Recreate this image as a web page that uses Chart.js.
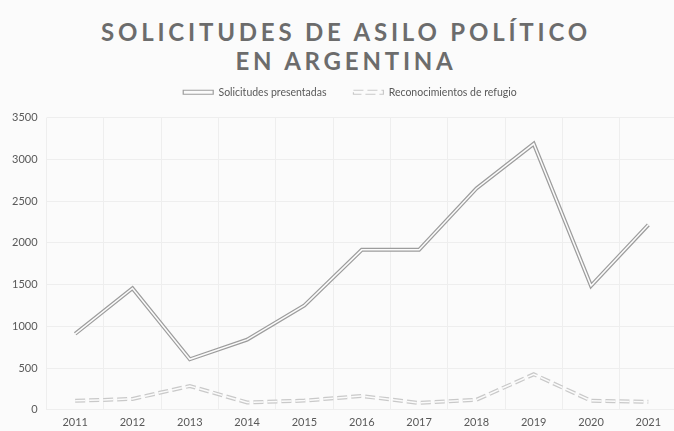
<!DOCTYPE html>
<html>
<head>
<meta charset="utf-8">
<script src="https://cdn.jsdelivr.net/npm/chart.js@4/dist/chart.umd.min.js"></script>
<style>
  html, body { margin: 0; padding: 0; background: #fbfbfb; overflow: hidden; }
  #wrap { position: relative; width: 674px; height: 431px; overflow: hidden; }
  #title {
    position: absolute; left: 9px; top: 18px; width: 674px;
    text-align: center; font-family: Lato, sans-serif; font-weight: 700;
    font-size: 24px; line-height: 28.5px; letter-spacing: 3.8px; color: #6c6c6c;
  }
  #box { position: absolute; left: 0; top: 0; width: 702px; height: 431px; }
</style>
</head>
<body>
<div id="wrap">
  <div id="title">SOLICITUDES DE ASILO POLÍTICO<br>EN ARGENTINA</div>
  <div id="box"><canvas id="chart"></canvas></div>
</div>
<script>
const years = ["2011", "2012", "2013", "2014", "2015", "2016", "2017", "2018", "2019", "2020", "2021"];
const solicitudes = [910, 1455, 605, 840, 1250, 1915, 1915, 2650, 3185, 1485, 2215];
const reconocimientos = [108, 130, 285, 88, 110, 165, 82, 120, 425, 108, 95];
const seriesNames = ["Solicitudes presentadas", "Reconocimientos de refugio"];

const bg = "#fbfbfb";
const textColor = "#595959";

// the legend sits a little right of the canvas centre and higher than its box
const legendShift = {
  id: "legendShift",
  afterLayout(chart) {
    chart.legend.left += 10;
    chart.legend.right += 10;
    chart.legend.top -= 10;
    chart.legend.bottom -= 10;
  },
};

const ctx = document.getElementById("chart");

new Chart(ctx, {
  type: "line",
  data: {
    labels: years,
    datasets: [
      {
        label: seriesNames[0],
        data: solicitudes,
        borderColor: "#9d9d9d",
        borderWidth: 4,
        pointRadius: 0,
        tension: 0,
        order: 4,
      },
      {
        label: "_inner0",
        data: solicitudes,
        borderColor: bg,
        borderWidth: 1.5,
        pointRadius: 0,
        tension: 0,
        order: 3,
      },
      {
        label: seriesNames[1],
        data: reconocimientos,
        borderColor: "#c9c9c9",
        borderWidth: 4,
        borderDash: [10, 4],
        pointRadius: 0,
        tension: 0,
        order: 6,
      },
      {
        label: "_inner1",
        data: reconocimientos,
        borderColor: bg,
        borderWidth: 1.5,
        borderDash: [10, 4],
        pointRadius: 0,
        tension: 0,
        order: 5,
      },
    ],
  },
  plugins: [legendShift],
  options: {
    responsive: true,
    maintainAspectRatio: false,
    animation: false,
    layout: { padding: { top: 70, right: 25, left: 3, bottom: -4 } },
    plugins: {
      title: { display: false },
      tooltip: { enabled: false },
      legend: {
        position: "top",
        labels: {
          color: textColor,
          font: { family: "Lato", size: 10.5 },
          boxWidth: 30,
          boxHeight: 4,
          padding: 27,
          generateLabels: (chart) =>
            chart.data.datasets
              .map((ds, i) => ({ ds, i }))
              .filter(({ ds }) => !ds.label.startsWith("_"))
              .map(({ ds, i }) => ({
                text: ds.label,
                fillStyle: bg,
                strokeStyle: ds.borderColor,
                lineWidth: 1.2,
                lineDash: ds.borderDash || [],
                fontColor: textColor,
                datasetIndex: i,
                hidden: false,
              })),
        },
      },
    },
    scales: {
      x: {
        offset: true,
        grid: { offset: true, color: "#eeeeee", drawTicks: false },
        border: { display: false },
        ticks: { color: textColor, font: { family: "Lato", size: 11 }, padding: 6 },
      },
      y: {
        min: 0,
        max: 3500,
        ticks: {
          stepSize: 500,
          color: textColor,
          font: { family: "Lato", size: 11 },
          padding: 9,
          callback: (v) => String(v),
        },
        grid: { color: "#eeeeee", drawTicks: false },
        border: { display: false },
      },
    },
  },
});
</script>
</body>
</html>
